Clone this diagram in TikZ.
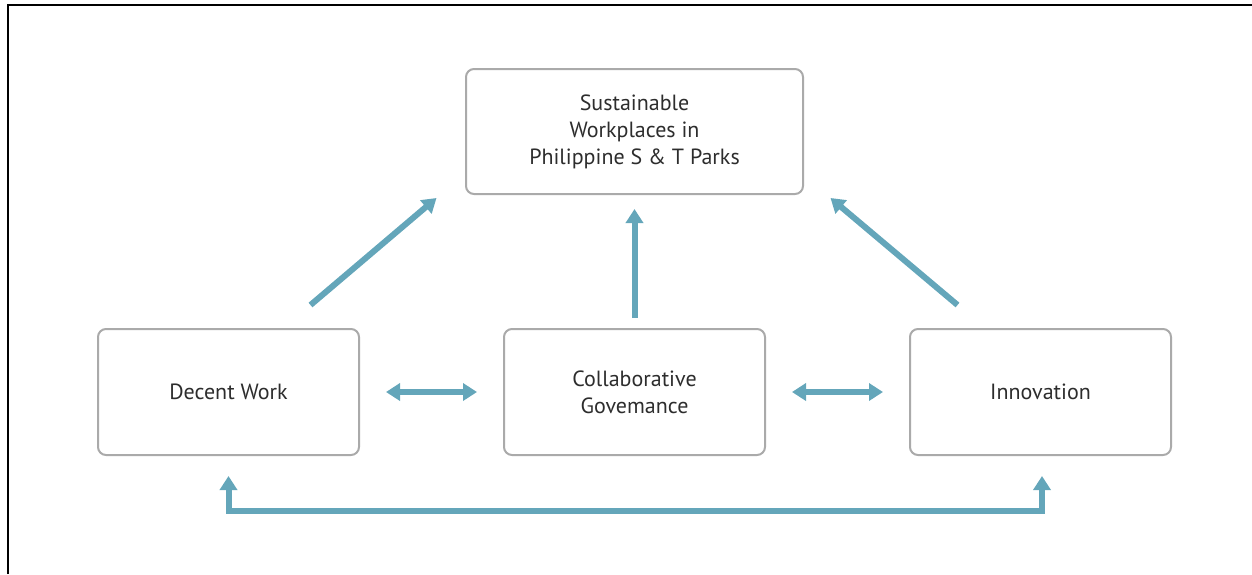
\documentclass[tikz,border=0pt]{standalone}
\usepackage{fontspec}
\setmainfont{PT Sans}
\usepackage{tikz}
\usetikzlibrary{arrows.meta}
\usetikzlibrary{positioning}
\definecolor{boxgray}{RGB}{170,170,170}
\definecolor{flowteal}{RGB}{100,166,186}
\definecolor{textgray}{RGB}{45,45,45}
\tikzstyle{factor}=[draw=boxgray, line width=1pt, rounded corners=4pt, align=center,
    minimum width=130.5pt, minimum height=63pt, text=textgray,
    font=\fontsize{11}{13.5}\selectfont]
\tikzstyle{flow}=[draw=flowteal, line width=3pt, -{Triangle[length=7pt, width=8.5pt]}]
\tikzstyle{flowboth}=[draw=flowteal, line width=3pt, {Triangle[length=7pt, width=8.5pt]}-{Triangle[length=7pt, width=8.5pt]}]

\begin{document}
\begin{tikzpicture}[x=0.5pt, y=-0.5pt]
\useasboundingbox (0,0) rectangle (1252,574);
\draw[black, line width=0.6pt] (8,574) -- (8,5) -- (1252,5);
\node[factor, minimum width=168.5pt, minimum height=62.5pt] (goal) at (634.5,131.5){Sustainable\\Workplaces in\\Philippine S \& T Parks};
\node[factor] (decent) at (228.5,392){Decent Work};
\node[factor] (collab) at (634.5,392){Collaborative\\Govemance};
\node[factor] (innov) at (1040.5,392){Innovation};
\draw[flow] ([shift={(82,-23)}]decent.north) -- ([shift={(-198,3)}]goal.south);
\draw[flow] ([shift={(0,-10)}]collab.north) -- ([shift={(0,14)}]goal.south);
\draw[flow] ([shift={(-83,-23)}]innov.north) -- ([shift={(196,3)}]goal.south);
\draw[flowboth] ([shift={(26,0)}]decent.east) -- ([shift={(-26,0)}]collab.west);
\draw[flowboth] ([shift={(26,0)}]collab.east) -- ([shift={(-26,0)}]innov.west);
\draw[flowboth] ([shift={(0,20)}]decent.south) -- ++(0,35) -| ([shift={(1.5,20)}]innov.south);
\end{tikzpicture}
\end{document}
